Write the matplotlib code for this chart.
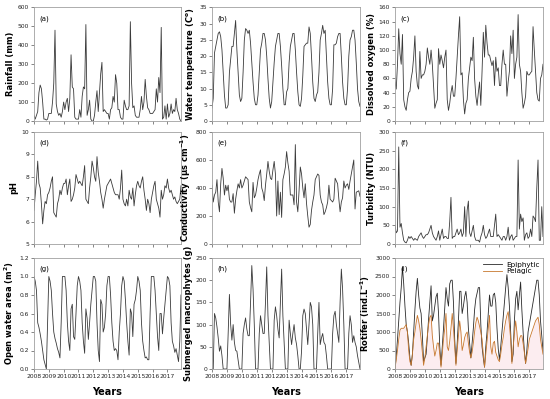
import matplotlib
matplotlib.use("Agg")
import matplotlib.pyplot as plt
import numpy as np

months = np.arange(120)
years = 2008 + months / 12.0
year_ticks = list(range(2008, 2018))

rainfall = [30, 10, 30, 50, 150, 190, 170, 100, 10, 10, 5, 10,
            40, 40, 40, 100, 200, 480, 90, 50, 30, 40, 20, 50,
            100, 60, 100, 120, 50, 120, 350, 180, 170, 20, 10, 10,
            10, 60, 20, 130, 180, 170, 510, 30, 60, 110, 10, 0,
            0, 30, 100, 160, 50, 150, 250, 310, 50, 60, 50, 40,
            40, 10, 60, 70, 130, 100, 245, 200, 60, 60, 20, 10,
            10, 110, 80, 60, 60, 80, 525, 200, 70, 80, 30, 20,
            20, 20, 60, 130, 60, 100, 220, 130, 70, 60, 40, 40,
            40, 50, 60, 170, 100, 230, 150, 495, 10, 20, 80, 10,
            90, 20, 40, 90, 40, 60, 50, 120, 60, 40, 10, 0]

water_temp = [4, 7, 21, 23, 25, 27, 27.5, 26, 22, 15, 8, 4,
              4, 5, 15, 19, 23, 23, 27, 31, 22, 15, 8, 6,
              7, 15, 25, 28.5, 28, 27, 28, 24, 18, 12, 7, 5,
              5, 8, 15, 22, 24, 27, 27, 25, 20, 13, 7, 4,
              6, 12, 18, 23, 25, 27, 27, 23, 17, 10, 5, 5,
              9, 10, 18, 23, 25, 27, 27, 22, 15, 9, 5, 4.5,
              7, 14, 23, 23.5, 24, 24, 29, 27, 20, 12, 7, 6,
              8, 9, 15, 25, 27, 29.5, 27, 28, 20, 12, 7, 5,
              5, 10, 23.5, 23.5, 24, 26, 27, 27, 20, 12, 7, 5,
              5, 10, 20, 25, 26, 28, 28, 25, 18, 10, 6, 4.5]

dissolved_oxygen = [55, 45, 80, 130, 95, 80, 122, 30, 20, 15, 30, 40,
                    42, 60, 70, 90, 120, 70, 50, 45, 98, 60, 65, 65,
                    70, 80, 103, 90, 80, 100, 80, 50, 18, 25, 30, 102,
                    80, 93, 85, 75, 90, 100, 30, 15, 25, 40, 50, 35,
                    35, 60, 90, 120, 147, 65, 68, 30, 10, 25, 30, 60,
                    75, 90, 85, 118, 60, 35, 22, 40, 55, 22, 70, 125,
                    90, 135, 110, 93, 93, 85, 78, 85, 50, 90, 70, 75,
                    50, 50, 80, 100, 80, 80, 35, 55, 70, 120, 95, 128,
                    60, 80, 90, 150, 80, 70, 40, 18, 25, 35, 70, 65,
                    65, 68, 70, 133, 100, 70, 40, 30, 28, 60, 65, 80]

ph = [6.5, 7.2, 7.8, 8.7, 7.7, 7.5, 6.8, 5.9, 6.5, 6.9, 6.8, 7.2,
      7.3, 7.5, 7.8, 8.0, 6.4, 6.3, 6.2, 6.8, 7.0, 7.4, 7.2, 7.5,
      7.7, 7.7, 7.9, 7.2, 7.6, 7.9, 6.9, 7.0, 7.2, 7.5, 8.1, 7.9,
      7.7, 7.8, 7.7, 7.6, 8.0, 8.5, 7.0, 6.9, 6.8, 7.5, 8.0, 8.7,
      8.4, 8.0, 7.8, 8.9, 8.2, 7.8, 7.3, 7.0, 6.6, 7.0, 7.3, 7.6,
      7.7, 7.8, 7.9, 7.7, 7.5, 7.3, 7.2, 7.2, 7.2, 7.0, 7.5, 8.3,
      7.0, 6.8, 6.7, 7.0, 6.7, 7.4, 7.1, 7.0, 7.5, 6.7, 7.2, 7.6,
      7.8, 7.6, 7.5, 7.8, 8.0, 7.4, 7.0, 6.5, 7.0, 6.8, 6.4, 7.0,
      7.3, 7.6, 7.8, 7.0, 6.8, 6.6, 6.2, 7.4, 7.0, 7.2, 7.6, 7.5,
      7.9, 7.5, 7.3, 7.4, 7.2, 7.0, 7.1, 6.9, 6.8, 6.9, 7.0, 7.6]

conductivity = [420, 300, 350, 370, 460, 300, 230, 430, 540, 470, 350, 420,
                380, 420, 320, 300, 300, 360, 220, 320, 380, 430, 400, 460,
                400, 420, 450, 480, 470, 460, 300, 260, 230, 440, 330, 350,
                400, 460, 500, 530, 400, 370, 310, 420, 500, 590, 520, 470,
                460, 530, 590, 500, 200, 450, 210, 370, 190, 460, 500, 550,
                660, 580, 520, 350, 350, 350, 280, 710, 300, 230, 380, 550,
                500, 400, 330, 430, 290, 200, 120, 140, 240, 300, 350, 460,
                480, 500, 490, 350, 300, 280, 210, 230, 260, 300, 420, 320,
                310, 300, 320, 470, 450, 430, 320, 230, 300, 330, 450, 400,
                420, 430, 390, 450, 500, 550, 600, 250, 370, 375, 380, 340]

turbidity = [50, 30, 35, 260, 45, 55, 30, 10, 5, 3, 10, 20,
             15, 20, 15, 10, 15, 12, 10, 20, 25, 30, 20, 15,
             20, 25, 25, 30, 40, 50, 30, 20, 15, 10, 20, 35,
             10, 25, 40, 15, 20, 20, 15, 15, 60, 125, 15, 20,
             20, 30, 40, 25, 30, 40, 20, 30, 100, 20, 90, 115,
             30, 20, 35, 50, 20, 10, 10, 10, 5, 20, 30, 50,
             25, 15, 20, 30, 40, 20, 20, 20, 50, 80, 20, 25,
             20, 15, 10, 20, 20, 10, 20, 45, 10, 20, 25, 10,
             15, 20, 20, 225, 40, 80, 60, 70, 10, 25, 30, 15,
             20, 40, 20, 75, 70, 60, 150, 225, 10, 10, 100, 20]

open_water = [1.0, 0.95, 0.85, 0.5, 0.45, 0.38, 0.3, 0.2, 0.1, 0.05, 0.0, 0.5,
              1.0, 0.95, 0.85, 0.6, 0.4, 0.33, 0.28, 0.22, 0.18, 0.12, 0.5, 1.0,
              1.0, 1.0, 0.85, 0.5, 0.3, 0.2, 0.65, 0.7, 0.35, 0.32, 0.6, 0.9,
              1.0, 0.95, 0.85, 0.5, 0.3, 0.17, 0.65, 0.55, 0.32, 0.5, 0.7, 0.85,
              1.0, 1.0, 0.95, 0.5, 0.2, 0.08, 0.75, 0.7, 0.4, 0.45, 0.6, 0.9,
              1.0, 1.0, 0.8, 0.5, 0.3, 0.2, 0.22, 0.2, 0.1, 0.4, 0.6, 0.9,
              1.0, 0.95, 0.75, 0.5, 0.3, 0.15, 0.65, 0.6, 0.35, 0.7, 0.75, 0.85,
              1.0, 0.95, 0.85, 0.5, 0.3, 0.2, 0.12, 0.13, 0.1, 0.1, 0.6, 1.0,
              1.0, 1.0, 0.85, 0.6, 0.35, 0.2, 0.6, 0.6, 0.38, 0.55, 0.7, 0.85,
              1.0, 0.98, 0.9, 0.5, 0.3, 0.25, 0.18, 0.22, 0.15, 0.08, 0.3, 0.8]

macrophytes = [0, 0, 125, 115, 95, 70, 40, 52, 30, 0, 0, 0,
               0, 80, 168, 100, 65, 100, 60, 42, 40, 20, 0, 0,
               0, 80, 100, 115, 90, 75, 75, 150, 233, 180, 100, 0,
               0, 0, 80, 120, 100, 80, 80, 150, 230, 120, 60, 0,
               0, 0, 110, 140, 120, 90, 70, 150, 225, 120, 60, 0,
               0, 0, 110, 80, 55, 80, 100, 70, 55, 30, 0, 0,
               40, 120, 135, 125, 90, 55, 100, 150, 140, 100, 0, 0,
               0, 80, 150, 55, 70, 80, 60, 55, 30, 0, 0, 0,
               0, 80, 120, 130, 100, 80, 60, 150, 225, 180, 100, 0,
               0, 0, 80, 120, 100, 60, 75, 60, 50, 30, 15, 0]

epiphytic = [0, 350, 800, 1300, 1800, 2200, 2750, 2300, 1700, 1200, 1000, 700,
             300, 100, 400, 1000, 1600, 2100, 2450, 2000, 1650, 1500, 900, 200,
             300, 400, 850, 1350, 1800, 2250, 1300, 1450, 1700, 1950, 2050, 1500,
             600, 100, 600, 1100, 1650, 2200, 1900, 1700, 2300, 2400, 2400, 1800,
             800, 150, 700, 1300, 2100, 2100, 1500, 1700, 1950, 2100, 1800, 1100,
             700, 300, 700, 1100, 1600, 1900, 2050, 2200, 2200, 1200, 600, 300,
             50, 600, 1000, 1500, 2000, 1700, 1700, 2000, 2050, 1800, 1100, 550,
             250, 600, 1000, 1400, 1800, 2200, 2550, 2200, 1700, 1000, 200, 400,
             1300, 1900, 2100, 1600, 2000, 2350, 1600, 1000, 500, 150, 500, 1000,
             1200, 1400, 1600, 1800, 2000, 2200, 2400, 2400, 2000, 1300, 900, 500]

pelagic = [0, 250, 500, 800, 1050, 1100, 1100, 1100, 1150, 1200, 1000, 500,
           200, 100, 400, 800, 1000, 1250, 1450, 1300, 1100, 800, 450, 100,
           300, 600, 900, 1200, 1400, 1450, 900, 600, 350, 500, 700, 700,
           400, 50, 400, 800, 1100, 1500, 600, 500, 750, 1100, 1500, 1100,
           600, 100, 500, 900, 1300, 1000, 500, 650, 850, 950, 1000, 700,
           450, 300, 450, 700, 1000, 1250, 1400, 1300, 1150, 1000, 800, 400,
           50, 400, 750, 1100, 1450, 600, 400, 700, 750, 450, 350, 250,
           200, 400, 650, 850, 1100, 1300, 1450, 1550, 1200, 800, 150, 600,
           950, 1300, 1000, 600, 800, 900, 900, 700, 450, 150, 350, 550,
           800, 900, 1000, 1100, 1200, 1300, 1350, 1400, 1200, 800, 600, 400]

panels = [
    ("(a)", "Rainfall (mm)", rainfall, (0, 600), np.arange(0, 601, 100), "{:.0f}"),
    ("(b)", "Water temperature (C$^{\\mathbf{o}}$)", water_temp, (0, 35), np.arange(0, 36, 5), "{:.0f}"),
    ("(c)", "Dissolved oxygen (%)", dissolved_oxygen, (0, 160), np.arange(0, 161, 20), "{:.0f}"),
    ("(d)", "pH", ph, (5, 10), np.arange(5, 11, 1), "{:.0f}"),
    ("(e)", "Conductivity (\u00b5s cm$^{\\mathbf{-1}}$)", conductivity, (0, 800), np.arange(0, 801, 200), "{:.0f}"),
    ("(f)", "Turbidity (NTU)", turbidity, (0, 300), np.arange(0, 301, 50), "{:.0f}"),
    ("(g)", "Open water area (m$^{\\mathbf{2}}$)", open_water, (0, 1.2), np.arange(0, 1.21, 0.2), "{:.1f}"),
    ("(h)", "Submerged macrophytes (g)", macrophytes, (0, 250), np.arange(0, 251, 50), "{:.0f}"),
    ("(i)", "Rotifer (ind.L$^{\\mathbf{-1}}$)", None, (0, 3000), np.arange(0, 3001, 500), "{:.0f}"),
]

fig = plt.figure(figsize=(5.5, 3.99), dpi=100)
lefts = [34 / 550, 212 / 550, 395 / 550]
widths = [147 / 550, 148 / 550, 148 / 550]
bottoms = [1 - 121 / 399, 1 - 244 / 399, 1 - 369 / 399]
heights = [113.5 / 399, 112 / 399, 111 / 399]

line_col = "#3a3a3a"
frame_col = "#a0a0a0"
xmax = 2008 + 119 / 12.0

for idx, (lab, ylab, data, ylim, yt, fmt) in enumerate(panels):
    r, c = divmod(idx, 3)
    ax = fig.add_axes([lefts[c], bottoms[r], widths[c], heights[r]])
    if data is not None:
        ax.plot(years, data, color=line_col, lw=0.6)
    else:
        ax.fill_between(years, 0, pelagic, color="#fbe6ea", alpha=0.7, lw=0)
        ax.plot(years, epiphytic, color="#2a2a2a", lw=0.6, label="Epiphytic")
        ax.plot(years, pelagic, color="#c8782e", lw=0.6, label="Pelagic")
        ax.legend(loc="upper right", frameon=False, fontsize=5.2, handlelength=2.6,
                  borderaxespad=0.1, labelspacing=0.1, handletextpad=0.6)
    ax.set_xlim(2008, xmax)
    ax.set_ylim(*ylim)
    ax.set_yticks(yt)
    ax.set_yticklabels([fmt.format(v) for v in yt])
    ax.set_xticks(year_ticks)
    if r == 2:
        ax.set_xticklabels([str(y) for y in year_ticks])
        ax.set_xlabel("Years", fontsize=7, fontweight="bold", labelpad=6)
    else:
        ax.set_xticklabels([])
    ax.tick_params(axis="both", labelsize=4.3, length=2, width=0.5, colors="#555555",
                   pad=1.5, labelcolor="#222222")
    for s in ax.spines.values():
        s.set_color(frame_col)
        s.set_linewidth(0.6)
    ax.set_ylabel(ylab, fontsize=6, fontweight="bold", labelpad=2)
    ax.text(0.035, 0.93, lab, transform=ax.transAxes, fontsize=5, va="top", ha="left")

fig.savefig("out.png", dpi=100)
